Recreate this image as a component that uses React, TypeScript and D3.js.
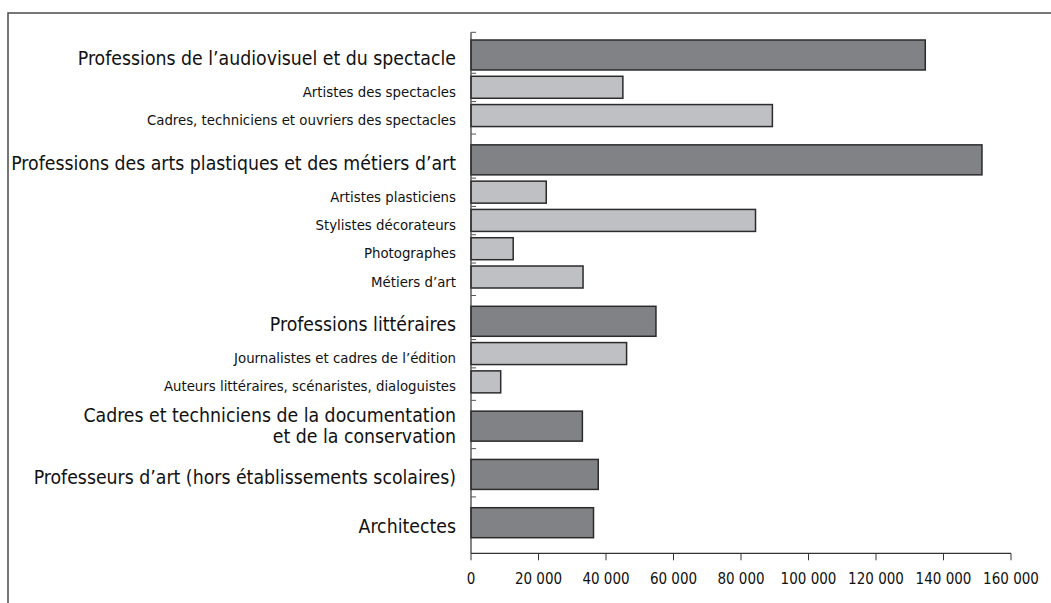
import * as d3 from "d3";

// categories (top to bottom), kind: "group" = main profession, "sub" = detail
const labels = [
  ["Professions de l’audiovisuel et du spectacle"],
  ["Artistes des spectacles"],
  ["Cadres, techniciens et ouvriers des spectacles"],
  ["Professions des arts plastiques et des métiers d’art"],
  ["Artistes plasticiens"],
  ["Stylistes décorateurs"],
  ["Photographes"],
  ["Métiers d’art"],
  ["Professions littéraires"],
  ["Journalistes et cadres de l’édition"],
  ["Auteurs littéraires, scénaristes, dialoguistes"],
  ["Cadres et techniciens de la documentation", "et de la conservation"],
  ["Professeurs d’art (hors établissements scolaires)"],
  ["Architectes"],
];

const kinds = [
  "group", "sub", "sub",
  "group", "sub", "sub", "sub", "sub",
  "group", "sub", "sub",
  "group", "group", "group",
];

const values = [
  134600, 45000, 89300,
  151400, 22300, 84300, 12500, 33200,
  54800, 46100, 8800,
  33000, 37700, 36300,
];

const xTicks = [0, 20000, 40000, 60000, 80000, 100000, 120000, 140000, 160000];

const W = 1051;
const H = 603;
const margin = { left: 471, right: 40, top: 32.3, bottom: 49.7 };
const font = "'DejaVu Sans Condensed', 'Liberation Sans Narrow', sans-serif";

const fmt = (v: number) => d3.format(",")(v).replace(/,/g, " ");

export default function App() {
  const x = d3
    .scaleLinear()
    .domain([0, 160000])
    .range([margin.left, W - margin.right]);

  // vertical layout in abstract units, mapped to the plot height
  const groupH = 30;
  const subH = 22;
  const groupGap = 18.3;
  const subGap = 6.3;
  let pos = 7.7;
  const rows = kinds.map((k, i) => {
    const gap = i === 0 ? 0 : k === "group" ? groupGap : subGap;
    const prevEnd = pos;
    pos += gap;
    const y0 = pos;
    const h = k === "group" ? groupH : subH;
    pos += h;
    const tick = i === 0 ? 0 : prevEnd + (k === "group" ? 7.5 : 3.3);
    return { y0, h, tick };
  });
  const total = pos + 15.6;
  const y = d3
    .scaleLinear()
    .domain([0, total])
    .range([margin.top, H - margin.bottom]);

  const baseY = y(total);

  return (
    <svg
      width={W}
      height={H}
      style={{ position: "absolute", left: 0, top: 0, background: "#fff" }}
      fontFamily={font}
    >
      {/* frame */}
      <path d={`M8,${H} L8,13 L${W},13`} fill="none" stroke="#4a4a4a" strokeWidth={1.5} />

      {/* bars */}
      {values.map((v, i) => {
        const r = rows[i];
        return (
          <rect
            key={i}
            x={x(0)}
            y={y(r.y0)}
            width={x(v) - x(0)}
            height={y(r.y0 + r.h) - y(r.y0)}
            fill={kinds[i] === "group" ? "#818285" : "#bfc0c4"}
            stroke="#2b2b2b"
            strokeWidth={1.5}
          />
        );
      })}

      {/* y axis */}
      <line x1={x(0)} x2={x(0)} y1={y(0)} y2={baseY} stroke="#333" strokeWidth={1.2} />
      {rows.map((r, i) => (
        <line
          key={i}
          x1={x(0)}
          x2={x(0) + 5}
          y1={y(r.tick)}
          y2={y(r.tick)}
          stroke="#555"
          strokeWidth={1}
        />
      ))}

      {/* category labels */}
      {labels.map((lines, i) => {
        const r = rows[i];
        const cy = y(r.y0 + r.h / 2);
        const isGroup = kinds[i] === "group";
        const size = isGroup ? 19.3 : 14.8;
        if (lines.length === 2) {
          return (
            <g key={i}>
              <text x={x(0) - 15} y={cy - 4} textAnchor="end" fontSize={size} fill="#111">
                {lines[0]}
              </text>
              <text x={x(0) - 15} y={cy + 17} textAnchor="end" fontSize={size} fill="#111">
                {lines[1]}
              </text>
            </g>
          );
        }
        return (
          <text
            key={i}
            x={x(0) - 15}
            y={cy + (isGroup ? 10 : 9.5)}
            textAnchor="end"
            fontSize={size}
            fill="#111"
          >
            {lines[0]}
          </text>
        );
      })}

      {/* x axis */}
      <line x1={x(0)} x2={x(160000)} y1={baseY} y2={baseY} stroke="#333" strokeWidth={1.2} />
      {xTicks.map((t) => (
        <g key={t}>
          <line x1={x(t)} x2={x(t)} y1={baseY} y2={baseY + 7} stroke="#333" strokeWidth={1} />
          <text x={x(t)} y={baseY + 31} textAnchor="middle" fontSize={15} fill="#111">
            {fmt(t)}
          </text>
        </g>
      ))}
    </svg>
  );
}
